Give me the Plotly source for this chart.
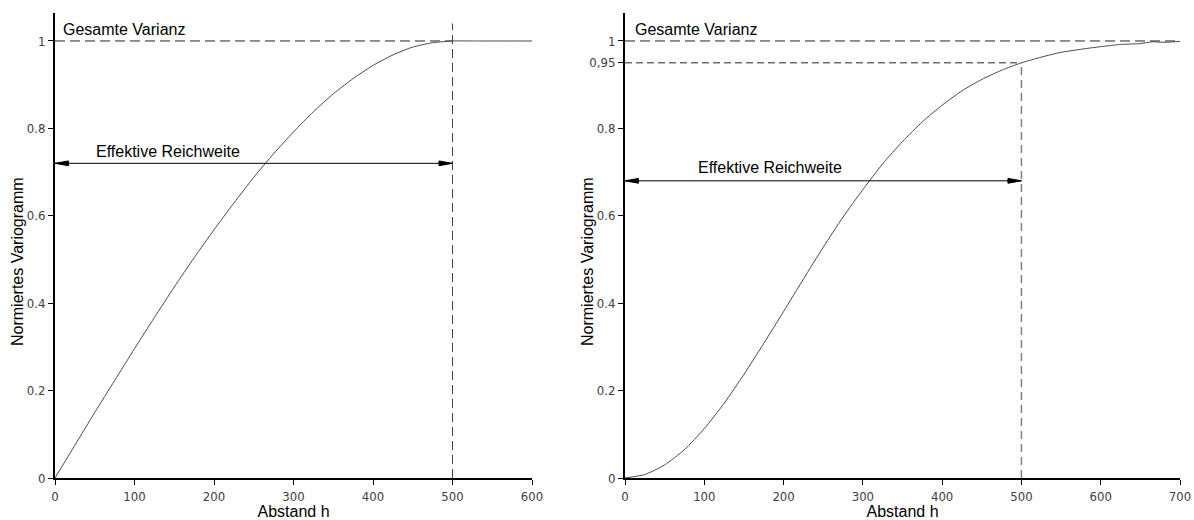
import plotly.graph_objects as go

# ---------------- data ----------------
# left: spherical model (range 500)
h_left = [0, 25, 50, 75, 100, 125, 150, 175, 200, 225, 250, 275, 300, 325, 350,
          375, 400, 425, 450, 475, 500, 525, 550, 575, 600]
g_left = [0.0, 0.075, 0.150, 0.223, 0.296, 0.367, 0.437, 0.504, 0.568, 0.629, 0.688,
          0.742, 0.792, 0.838, 0.879, 0.914, 0.944, 0.968, 0.986, 0.996, 1.0,
          1.0, 1.0, 1.0, 1.0]
# right: gaussian model (effective range 500)
h_right = [0, 25, 50, 75, 100, 125, 150, 175, 200, 225, 250, 275, 300, 325, 350,
           375, 400, 425, 450, 475, 500, 525, 550, 575, 600, 625, 650, 665, 680, 700]
g_right = [0.0, 0.008, 0.030, 0.065, 0.113, 0.171, 0.237, 0.308, 0.381, 0.455, 0.528,
           0.597, 0.660, 0.719, 0.770, 0.815, 0.853, 0.886, 0.912, 0.933, 0.950,
           0.963, 0.974, 0.981, 0.987, 0.992, 0.994, 0.998, 0.997, 0.999]

sill = 1.0
eff_range = 500
level95 = 0.95
arrow_y_left = 0.72
arrow_y_right = 0.68
x_max_left = 600
x_max_right = 700
y_top = 1.064
vline_top_left = 1.04

yticks_left = [0, 0.2, 0.4, 0.6, 0.8, 1]
yticktext_left = ["0", "0.2", "0.4", "0.6", "0.8", "1"]
yticks_right = [0, 0.2, 0.4, 0.6, 0.8, 0.95, 1]
yticktext_right = ["0", "0.2", "0.4", "0.6", "0.8", "0,95", "1"]
xticks_left = [0, 100, 200, 300, 400, 500, 600]
xticks_right = [0, 100, 200, 300, 400, 500, 600, 700]

x_title = "Abstand h"
y_title = "Normiertes Variogramm"

# ---------------- figure ----------------
W, H = 1194, 520
fig = go.Figure()

curve_col = "#4a4a4a"
dash_long = "10px,5px"
dash_short = "7px,4px"

# arrowhead geometry (in data units, derived from pixel sizes)
head_len = 17.0     # x units (~13 px)
head_half = 0.0055  # y units (~2.4 px)


def add_arrow(xa, ya, y0, x0, x1):
    fig.add_trace(go.Scatter(x=[x0, x1], y=[y0, y0], mode="lines",
                             line=dict(color="#000", width=1),
                             xaxis=xa, yaxis=ya, hoverinfo="skip"))
    for tip, back in ((x0, x0 + head_len), (x1, x1 - head_len)):
        fig.add_trace(go.Scatter(x=[tip, back, back, tip],
                                 y=[y0, y0 + head_half, y0 - head_half, y0],
                                 mode="lines", fill="toself", fillcolor="#000",
                                 line=dict(color="#000", width=1),
                                 xaxis=xa, yaxis=ya, hoverinfo="skip"))


# left panel
fig.add_trace(go.Scatter(x=[0, eff_range], y=[sill, sill], mode="lines",
                         line=dict(color="#222", width=1, dash=dash_long),
                         xaxis="x", yaxis="y", hoverinfo="skip"))
fig.add_trace(go.Scatter(x=[eff_range, eff_range], y=[0, vline_top_left], mode="lines",
                         line=dict(color="#444", width=1, dash="9px,5px"),
                         xaxis="x", yaxis="y", hoverinfo="skip"))
fig.add_trace(go.Scatter(x=h_left, y=g_left, mode="lines", line_shape="spline",
                         line=dict(color=curve_col, width=1, smoothing=0.6),
                         xaxis="x", yaxis="y"))
add_arrow("x", "y", arrow_y_left, 0, eff_range)

# right panel
fig.add_trace(go.Scatter(x=[0, x_max_right], y=[sill, sill], mode="lines",
                         line=dict(color="#222", width=1, dash=dash_long),
                         xaxis="x2", yaxis="y2", hoverinfo="skip"))
fig.add_trace(go.Scatter(x=[0, eff_range], y=[level95, level95], mode="lines",
                         line=dict(color="#222", width=1, dash=dash_short),
                         xaxis="x2", yaxis="y2", hoverinfo="skip"))
fig.add_trace(go.Scatter(x=[eff_range, eff_range], y=[0, level95], mode="lines",
                         line=dict(color="#808080", width=1.5, dash="8px,5px"),
                         xaxis="x2", yaxis="y2", hoverinfo="skip"))
fig.add_trace(go.Scatter(x=h_right, y=g_right, mode="lines", line_shape="spline",
                         line=dict(color=curve_col, width=1, smoothing=0.6),
                         xaxis="x2", yaxis="y2"))
add_arrow("x2", "y2", arrow_y_right, 0, eff_range)

tick_font = dict(family="Liberation Sans Narrow, DejaVu Sans Condensed, Arial Narrow, sans-serif",
                 size=13, color="#404040")
title_font = dict(family="Liberation Sans, Arial, sans-serif", size=16, color="#000")

ydom = [1 - 478 / H, 1 - 13 / H]
common_axis = dict(showgrid=False, zeroline=False, showline=True, linecolor="#000",
                   linewidth=2, ticks="outside", ticklen=5, tickcolor="#000", tickwidth=1,
                   tickfont=tick_font, automargin=False, fixedrange=True)

fig.update_layout(
    width=W, height=H,
    margin=dict(l=0, r=0, t=0, b=0),
    paper_bgcolor="white", plot_bgcolor="white",
    showlegend=False,
    xaxis=dict(domain=[55 / W, 532 / W], range=[0, x_max_left], tickvals=xticks_left,
               anchor="y", title=dict(text=x_title, font=title_font, standoff=2),
               **common_axis),
    yaxis=dict(domain=ydom, range=[0, y_top], tickvals=yticks_left, ticktext=yticktext_left,
               anchor="x", **common_axis),
    xaxis2=dict(domain=[625 / W, 1180 / W], range=[0, x_max_right], tickvals=xticks_right,
                anchor="y2", title=dict(text=x_title, font=title_font, standoff=2),
                **common_axis),
    yaxis2=dict(domain=ydom, range=[0, y_top], tickvals=yticks_right, ticktext=yticktext_right,
                anchor="x2", **common_axis),
)

text_font = dict(family="Liberation Sans, Arial, sans-serif", size=16, color="#000")
ytitle_pos = 1 - 262 / H
annotations = [
    dict(x=17 / W, y=ytitle_pos, xref="paper", yref="paper", text=y_title, showarrow=False,
         textangle=-90, xanchor="center", yanchor="middle", font=title_font),
    dict(x=587 / W, y=ytitle_pos, xref="paper", yref="paper", text=y_title, showarrow=False,
         textangle=-90, xanchor="center", yanchor="middle", font=title_font),
    dict(x=8, y=1.027, xref="x", yref="y", text="Gesamte Varianz", showarrow=False,
         xanchor="left", yanchor="middle", font=text_font),
    dict(x=10, y=1.027, xref="x2", yref="y2", text="Gesamte Varianz", showarrow=False,
         xanchor="left", yanchor="middle", font=text_font),
    dict(x=142, y=0.747, xref="x", yref="y", text="Effektive Reichweite", showarrow=False,
         xanchor="center", yanchor="middle", font=text_font),
    dict(x=183, y=0.710, xref="x2", yref="y2", text="Effektive Reichweite", showarrow=False,
         xanchor="center", yanchor="middle", font=text_font),
]
fig.update_layout(annotations=annotations)

fig.write_html("out.html")
